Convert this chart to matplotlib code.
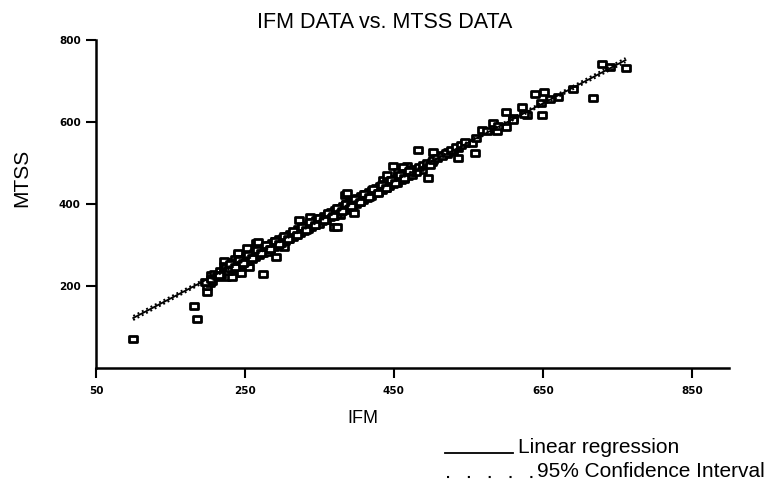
import numpy as np
import matplotlib
matplotlib.use("Agg")
import matplotlib.pyplot as plt
from matplotlib.path import Path
from matplotlib.markers import MarkerStyle

plt.rcParams['font.family'] = ['Liberation Sans', 'DejaVu Sans']

# IFM / MTSS pairs (outliers + the dense band along the line)
ifm = [100, 181, 185, 199, 199, 203, 206, 197, 205, 212, 225, 225, 236, 240, 252, 265,
       274, 222, 240, 253, 267, 256, 245, 225, 233, 303, 292, 370, 337, 222, 236, 248,
       323, 384, 397, 373, 377, 387, 435, 441, 449, 467, 482, 502, 496, 536, 559, 555,
       568, 583, 601, 600, 622, 629, 649, 640, 651, 670, 717, 730, 761, 521, 536, 589,
       610, 647, 501, 523, 455, 462, 475, 488, 515, 530, 545, 560, 575, 590, 610, 625,
       660, 690, 740,
       205, 208, 212, 216, 218, 222, 224, 227, 230, 232, 236, 238, 241, 244, 246, 249,
       252, 254, 257, 259, 262, 264, 267, 269, 272, 274, 277, 279, 282, 284, 286, 289,
       291, 294, 296, 299, 301, 304, 306, 309, 311, 314, 316, 319, 321, 324, 326, 329,
       331, 334, 336, 339, 341, 344, 346, 349, 351, 354, 356, 359, 361, 364, 366, 369,
       371, 374, 376, 379, 381, 384, 386, 389, 391, 394, 396, 399, 401, 404, 406, 409,
       411, 414, 416, 419, 421, 424, 426, 429, 431, 434, 436, 439, 441, 444, 446, 449,
       451, 454, 456, 459, 461, 464, 466, 469, 471, 474, 476, 479, 484, 489, 494, 498,
       503, 508, 514, 520, 527, 533, 540, 546,
       215, 228, 243, 256, 268, 281, 293, 303, 313, 323, 333, 343, 353, 363, 373, 383,
       393, 403, 413, 423, 433, 443, 453, 463, 473,
       230, 236, 242, 248, 254, 260, 266, 272, 278, 284, 290, 296, 302, 308, 314, 320,
       326, 332, 338, 344, 350, 356, 362, 368, 374, 380, 386, 392, 398, 404, 410, 416,
       422, 428, 434, 440, 446, 452, 458, 464, 470]
mtss = [71, 151, 120, 185, 200, 207, 212, 210, 227, 222, 259, 231, 231, 276, 268, 305,
        229, 261, 280, 293, 307, 247, 232, 222, 222, 296, 271, 344, 368, 250, 266, 255,
        361, 422, 378, 344, 373, 427, 459, 471, 493, 493, 532, 527, 463, 512, 524, 549,
        580, 597, 588, 624, 637, 617, 617, 668, 673, 661, 659, 741, 732, 522, 537, 578,
        610, 646, 502, 527, 478, 490, 478, 484, 520, 530, 548, 560, 577, 590, 606, 620,
        655, 680, 735,
        218, 230, 224, 236, 228, 240, 246, 236, 250, 242, 256, 248, 262, 252, 266, 258,
        272, 262, 276, 266, 280, 272, 286, 276, 290, 280, 294, 284, 300, 290, 304, 296,
        310, 300, 314, 306, 318, 310, 322, 314, 328, 320, 332, 324, 338, 330, 342, 334,
        346, 338, 352, 344, 356, 348, 362, 352, 366, 358, 370, 362, 376, 368, 380, 372,
        386, 376, 390, 382, 394, 386, 400, 392, 404, 396, 410, 400, 414, 406, 420, 410,
        424, 414, 430, 420, 434, 426, 440, 430, 444, 434, 450, 440, 454, 444, 458, 448,
        462, 452, 468, 458, 472, 462, 476, 468, 482, 472, 486, 478, 490, 494, 500, 496,
        508, 512, 518, 524, 532, 540, 544, 552,
        226, 244, 258, 268, 282, 294, 306, 316, 324, 334, 344, 354, 362, 372, 382, 392,
        402, 410, 420, 430, 440, 450, 458, 468, 478,
        253, 246, 264, 257, 276, 268, 287, 280, 299, 291, 310, 303, 321, 314, 333, 325,
        344, 337, 356, 348, 367, 360, 378, 371, 390, 383, 401, 394, 413, 405, 424, 417,
        436, 428, 447, 440, 458, 451, 470, 463, 481]

# regression line and 95% band
reg_x = [100, 761]
reg_y = [122, 751]
ci_x = [100, 250, 430, 600, 761]
ci_lo = [117, 262, 434, 595, 746]
ci_hi = [127, 268, 438, 601, 756]

x_ticks = [50, 250, 450, 650, 850]
y_ticks = [200, 400, 600, 800]

fig = plt.figure(figsize=(7.65, 4.8), dpi=100)
ax = fig.add_axes([0.1255, 0.2333, 0.8275, 0.6833])

box = Path([(-1, -0.75), (1, -0.75), (1, 0.75), (-1, 0.75), (-1, -0.75)],
           [Path.MOVETO, Path.LINETO, Path.LINETO, Path.LINETO, Path.CLOSEPOLY])
ax.plot(ifm, mtss, linestyle='none', marker=MarkerStyle(box, joinstyle='round'),
        markersize=5.5, markerfacecolor='white', markeredgecolor='black',
        markeredgewidth=2.0, zorder=2)

ax.plot(reg_x, reg_y, color='black', lw=1.3, zorder=3)
ax.plot(ci_x, ci_lo, color='black', lw=1.4, linestyle=(0, (1, 1.5)), zorder=3)
ax.plot(ci_x, ci_hi, color='black', lw=1.4, linestyle=(0, (1, 1.5)), zorder=3)

ax.set_xlim(50, 900)
ax.set_ylim(0, 800)
ax.set_xticks(x_ticks)
ax.set_yticks(y_ticks)
ax.spines['top'].set_visible(False)
ax.spines['right'].set_visible(False)
ax.spines['left'].set_linewidth(1.8)
ax.spines['bottom'].set_linewidth(1.8)
ax.tick_params(direction='out', length=7, width=1.5, colors='black')
ax.tick_params(axis='x', pad=6)
ax.tick_params(axis='y', pad=4)
for lab in ax.get_xticklabels() + ax.get_yticklabels():
    lab.set_fontfamily('DejaVu Sans')
    lab.set_fontweight('bold')
    lab.set_fontsize(7.5)

fig.text(0.503, 0.942, "IFM DATA vs. MTSS DATA", ha='center', va='baseline', fontsize=15.5)
fig.text(0.474, 0.119, "IFM", ha='center', va='baseline', fontsize=13)
fig.text(0.029, 0.629, "MTSS", ha='center', va='center', rotation=90, fontsize=15)

# hand-drawn style key under the plot
fig.add_artist(plt.Line2D([445 / 765, 513 / 765], [0.056, 0.056], color='black', lw=1.3))
fig.text(518 / 765, 0.056, "Linear regression", ha='left', va='baseline', fontsize=15)
fig.add_artist(plt.Line2D([447 / 765, 533 / 765], [0.006, 0.006], color='black', lw=1.5,
                          linestyle=(0, (1, 9))))
fig.text(537 / 765, 0.006, "95% Confidence Interval", ha='left', va='baseline', fontsize=15)

fig.savefig("out.png", dpi=100)
